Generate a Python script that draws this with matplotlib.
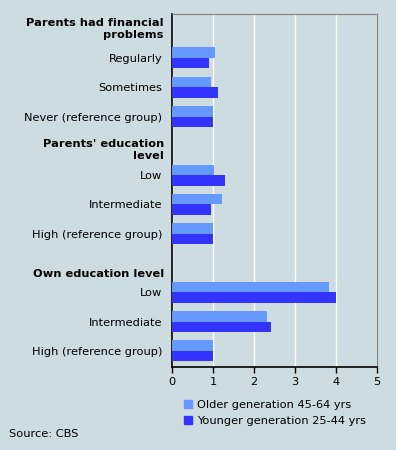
import matplotlib
matplotlib.use("Agg")
import matplotlib.pyplot as plt
from matplotlib.patches import Patch
import numpy as np

# Données
categories = ["Regularly", "Sometimes", "Never (reference group)",
              "Low", "Intermediate", "High (reference group)",
              "Low", "Intermediate", "High (reference group)"]
slots = [0, 1, 2, 4, 5, 6, 8, 9, 10]
older = [1.05, 0.96, 1.0, 1.03, 1.23, 1.0, 3.83, 2.32, 1.0]
younger = [0.91, 1.13, 1.0, 1.30, 0.96, 1.0, 4.0, 2.42, 1.0]
headers = ["Parents had financial\nproblems", "Parents' education\nlevel", "Own education level"]
header_slots = [-0.99, 3.14, 7.37]
xticks = [0, 1, 2, 3, 4, 5]

BG = "#CDDCE0"
C_OLD = "#6699FF"
C_YOUNG = "#3333FF"

plt.rcParams['font.family'] = ['DejaVu Sans']
fs = 8.2

fig = plt.figure(figsize=(3.96, 4.5), dpi=100, facecolor=BG)
ax = fig.add_axes([172/396, 1 - 367/450, 205/396, 353/450], facecolor=BG)

y = np.array(slots, dtype=float)
h = 0.36
ax.barh(y - h/2, older, height=h, color=C_OLD, zorder=3)
ax.barh(y + h/2, younger, height=h, color=C_YOUNG, zorder=3)

ax.set_xlim(0, 5)
ax.set_ylim(10.55, -1.5)
ax.set_xticks(xticks)
ax.set_xticklabels([str(t) for t in xticks], fontsize=fs)
ax.set_yticks(slots)
ax.set_yticklabels(categories, fontsize=fs)
ax.tick_params(axis='y', length=0, pad=7)
ax.tick_params(axis='x', length=4, width=1, color="black", pad=3)
ax.grid(axis='x', color="white", linewidth=1, zorder=1)

for s in ["top", "right"]:
    ax.spines[s].set_color("#808080")
for s in ["left", "bottom"]:
    ax.spines[s].set_color("black")
    ax.spines[s].set_linewidth(1.2)

for txt, hs in zip(headers, header_slots):
    ax.text(-0.04, hs, txt, transform=ax.get_yaxis_transform(), ha="right", va="center",
            fontsize=fs, fontweight="bold", linespacing=1.2)

handles = [Patch(color=C_OLD, label="Older generation 45-64 yrs"),
           Patch(color=C_YOUNG, label="Younger generation 25-44 yrs")]
fig.legend(handles=handles, loc="upper left", bbox_to_anchor=(174/396, 1 - 390/450),
           frameon=False, fontsize=fs, handlelength=0.7, handleheight=0.7,
           handletextpad=0.4, labelspacing=0.5)

fig.text(9/396, 1 - 434/450, "Source: CBS", fontsize=fs, va="center", ha="left")

fig.savefig("out.png", dpi=100, facecolor=BG)
